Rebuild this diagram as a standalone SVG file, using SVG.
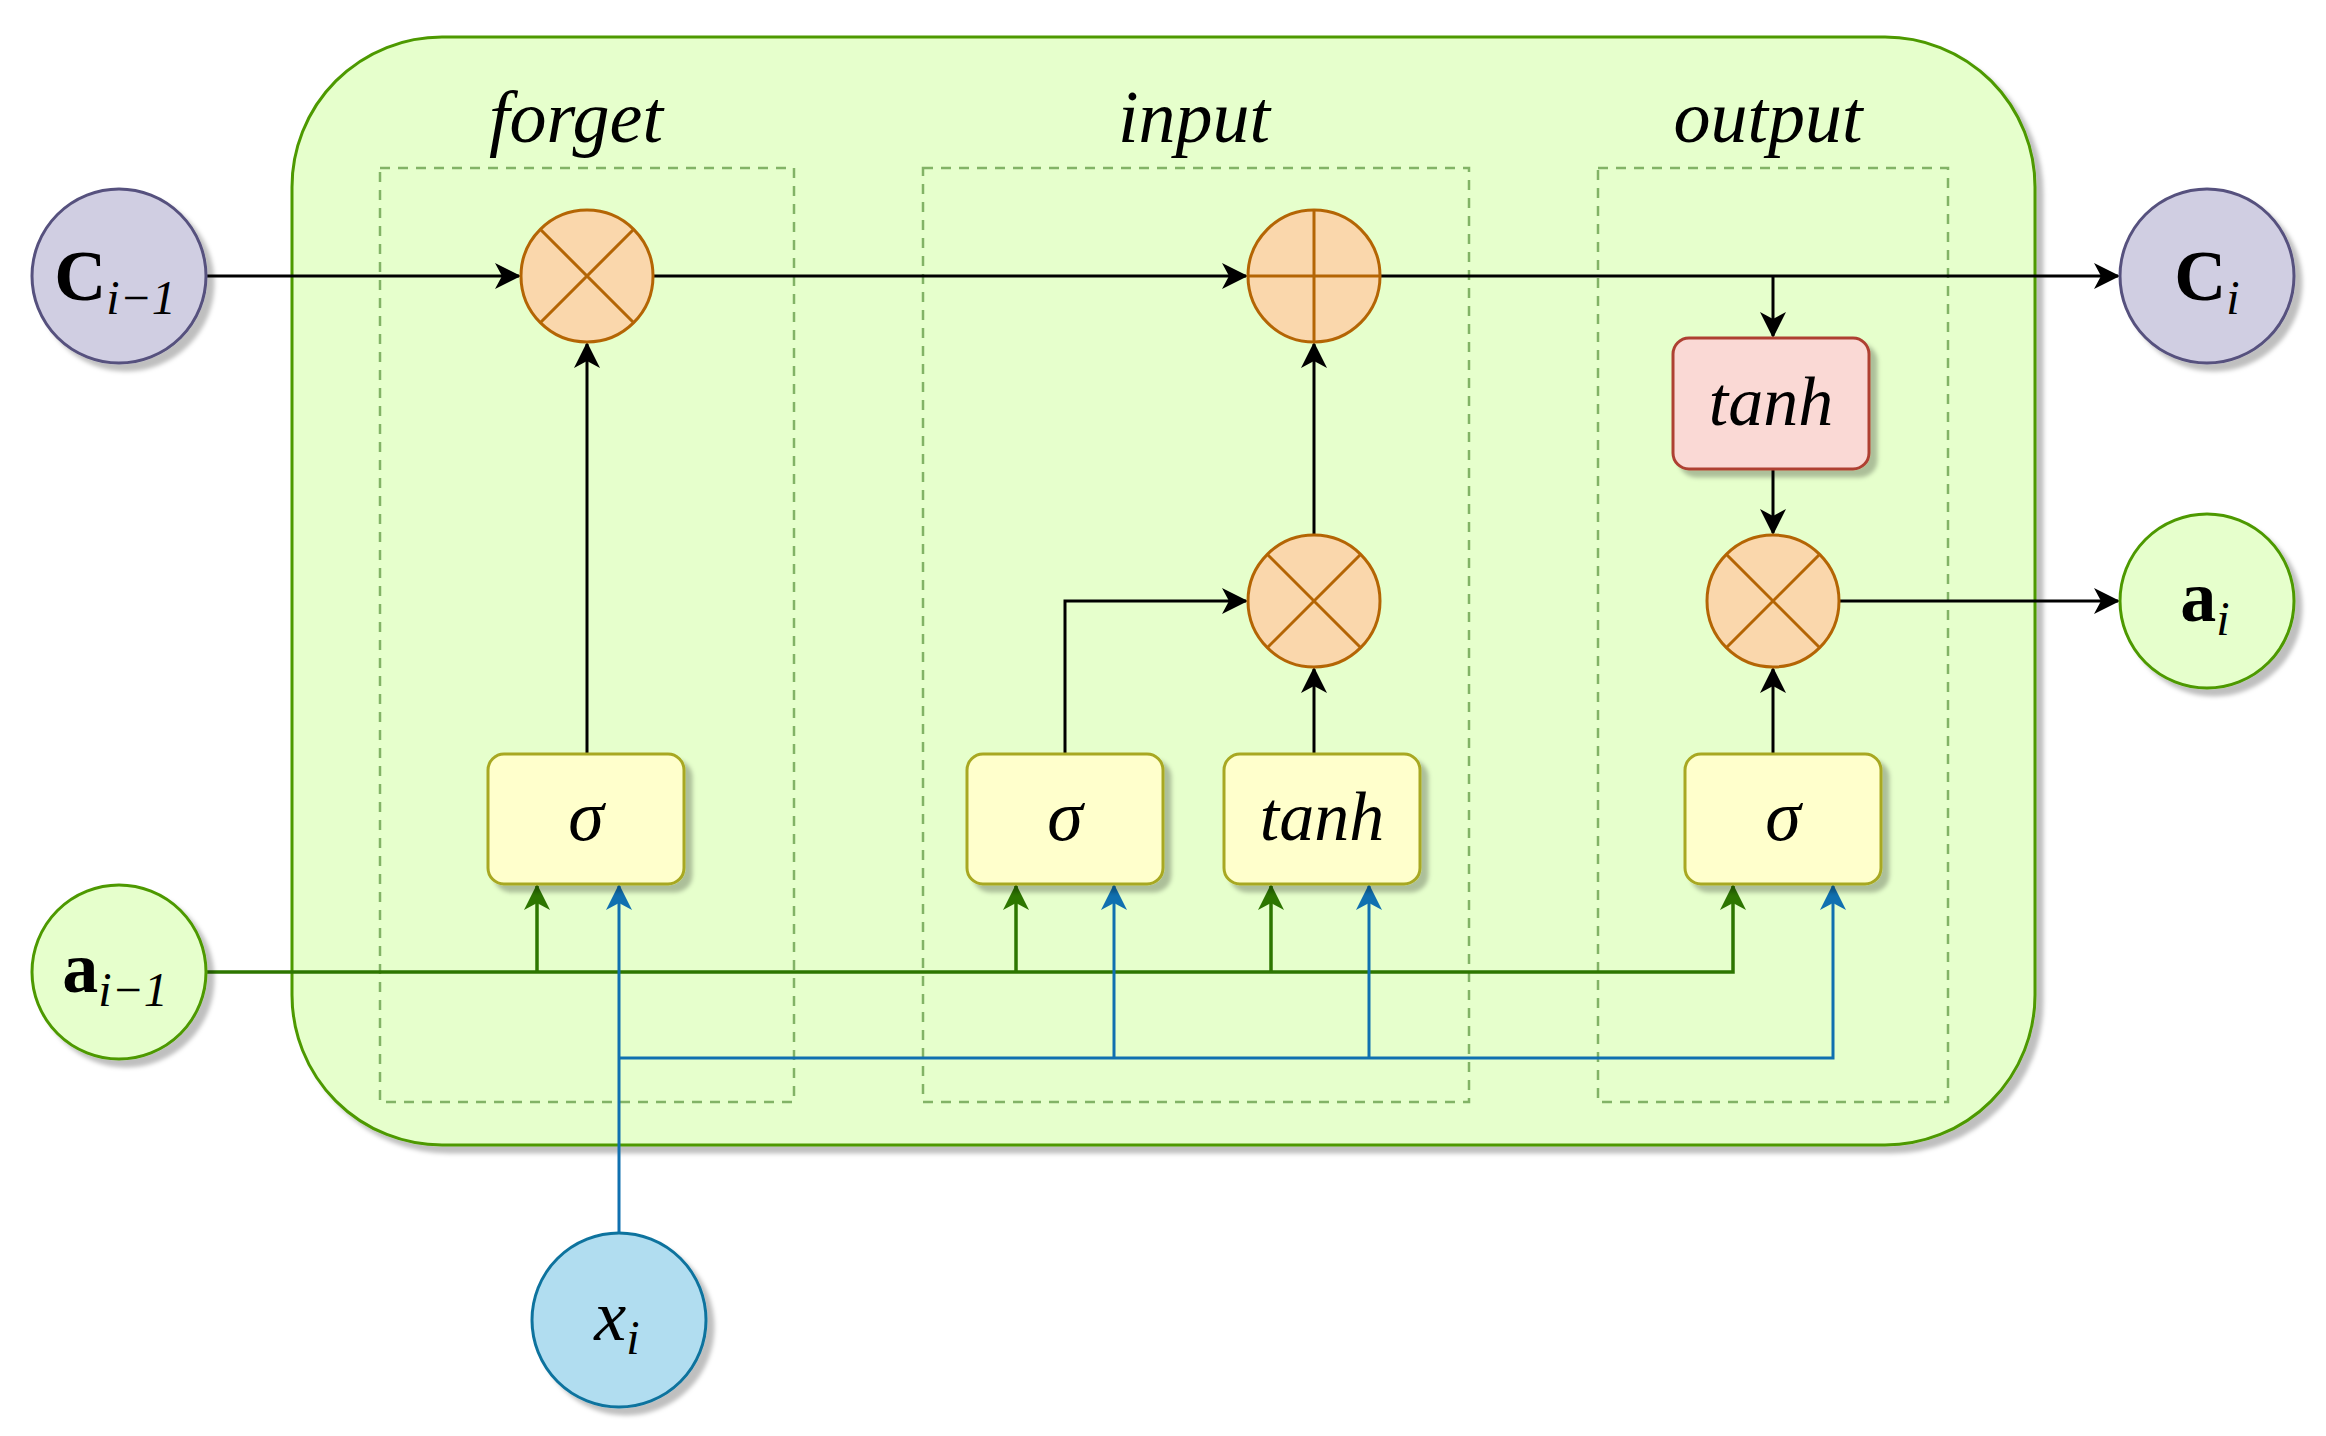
<svg xmlns="http://www.w3.org/2000/svg" width="2326" height="1436" viewBox="0 0 2326 1436">
<style>
.t{font-family:"Liberation Serif","DejaVu Serif",serif;font-style:italic;fill:#000}
.b{font-family:"Liberation Serif","DejaVu Serif",serif;font-weight:bold;fill:#000}
.op{fill:#fad7ac;stroke:#b46504;stroke-width:3}
.opl{stroke:#b46504;stroke-width:3}
.y{fill:#ffffcc;stroke:#a8a820;stroke-width:3}
.dash{fill:none;stroke:#82b366;stroke-width:2.5;stroke-dasharray:10 8}
.k{fill:none;stroke:#000;stroke-width:3}
.g{fill:none;stroke:#2d7600;stroke-width:3.5}
.bl{fill:none;stroke:#1070b0;stroke-width:3}
</style>
<defs>
<filter id="sh" x="-20%" y="-20%" width="150%" height="150%"><feDropShadow dx="7" dy="7" stdDeviation="2" flood-color="#000" flood-opacity="0.25"/></filter>
<marker id="ak" markerWidth="26" markerHeight="26" refX="24" refY="13" orient="auto" markerUnits="userSpaceOnUse" viewBox="0 0 26 26"><path d="M0,0 L26,13 L0,26 L7,13 Z" fill="#000"/></marker>
<marker id="ag" markerWidth="26" markerHeight="26" refX="24" refY="13" orient="auto" markerUnits="userSpaceOnUse" viewBox="0 0 26 26"><path d="M0,0 L26,13 L0,26 L7,13 Z" fill="#2d7600"/></marker>
<marker id="ab" markerWidth="26" markerHeight="26" refX="24" refY="13" orient="auto" markerUnits="userSpaceOnUse" viewBox="0 0 26 26"><path d="M0,0 L26,13 L0,26 L7,13 Z" fill="#1070b0"/></marker>
</defs>
<g id="cell"><rect x="292" y="37" width="1743" height="1108" rx="150" fill="#e6ffcc" stroke="#4d9900" stroke-width="3" filter="url(#sh)"/></g>
<g id="forget-box"><rect class="dash" x="380" y="168" width="414" height="934"/><text class="t" x="576" y="142" font-size="74" text-anchor="middle">forget</text></g>
<g id="input-box"><rect class="dash" x="923" y="168" width="546" height="934"/><text class="t" x="1194" y="142" font-size="74" text-anchor="middle">input</text></g>
<g id="output-box"><rect class="dash" x="1598" y="168" width="350" height="934"/><text class="t" x="1768" y="142" font-size="74" text-anchor="middle">output</text></g>
<g id="connectors">
<path class="k" d="M207,276 H519" marker-end="url(#ak)"/>
<path class="k" d="M653,276 H1246" marker-end="url(#ak)"/>
<path class="k" d="M1380,276 H2118" marker-end="url(#ak)"/>
<path class="k" d="M1773,276 V336" marker-end="url(#ak)"/>
<path class="k" d="M1773,469 V533" marker-end="url(#ak)"/>
<path class="k" d="M1839,601 H2118" marker-end="url(#ak)"/>
<path class="k" d="M587,754 V344" marker-end="url(#ak)"/>
<path class="k" d="M1065,754 V601 H1246" marker-end="url(#ak)"/>
<path class="k" d="M1314,754 V669" marker-end="url(#ak)"/>
<path class="k" d="M1314,535 V344" marker-end="url(#ak)"/>
<path class="k" d="M1773,754 V669" marker-end="url(#ak)"/>
<path class="g" d="M207,972 H1733 V886" marker-end="url(#ag)"/>
<path class="g" d="M537,972 V886" marker-end="url(#ag)"/>
<path class="g" d="M1016,972 V886" marker-end="url(#ag)"/>
<path class="g" d="M1271,972 V886" marker-end="url(#ag)"/>
<path class="bl" d="M619,1232 V886" marker-end="url(#ab)"/>
<path class="bl" d="M619,1058 H1833 V886" marker-end="url(#ab)"/>
<path class="bl" d="M1114,1058 V886" marker-end="url(#ab)"/>
<path class="bl" d="M1369,1058 V886" marker-end="url(#ab)"/>
</g>
<g id="mul-forget"><circle class="op" cx="587" cy="276" r="66"/><path class="opl" d="M540,229 L634,323 M634,229 L540,323"/></g>
<g id="add-input"><circle class="op" cx="1314" cy="276" r="66"/><path class="opl" d="M1248,276 H1380 M1314,210 V342"/></g>
<g id="mul-input"><circle class="op" cx="1314" cy="601" r="66"/><path class="opl" d="M1267,554 L1361,648 M1361,554 L1267,648"/></g>
<g id="mul-output"><circle class="op" cx="1773" cy="601" r="66"/><path class="opl" d="M1726,554 L1820,648 M1820,554 L1726,648"/></g>
<g id="tanh-out"><rect x="1673" y="338" width="196" height="131" rx="16" fill="#fad9d5" stroke="#ae4132" stroke-width="3" filter="url(#sh)"/><text class="t" x="1771" y="425" font-size="70" text-anchor="middle">tanh</text></g>
<g id="sig-forget"><rect class="y" x="488" y="754" width="196" height="130" rx="16" filter="url(#sh)"/><text class="t" x="586" y="840" font-size="72" text-anchor="middle">σ</text></g>
<g id="sig-input"><rect class="y" x="967" y="754" width="196" height="130" rx="16" filter="url(#sh)"/><text class="t" x="1065" y="840" font-size="72" text-anchor="middle">σ</text></g>
<g id="tanh-input"><rect class="y" x="1224" y="754" width="196" height="130" rx="16" filter="url(#sh)"/><text class="t" x="1322" y="840" font-size="70" text-anchor="middle">tanh</text></g>
<g id="sig-output"><rect class="y" x="1685" y="754" width="196" height="130" rx="16" filter="url(#sh)"/><text class="t" x="1783" y="840" font-size="72" text-anchor="middle">σ</text></g>
<g id="C-prev"><circle cx="119" cy="276" r="87" fill="#d0cee2" stroke="#56517e" stroke-width="3" filter="url(#sh)"/><text x="115" y="300" text-anchor="middle"><tspan class="b" font-size="72">C</tspan><tspan class="t" font-size="48" dy="14">i−1</tspan></text></g>
<g id="C-next"><circle cx="2207" cy="276" r="87" fill="#d0cee2" stroke="#56517e" stroke-width="3" filter="url(#sh)"/><text x="2207" y="300" text-anchor="middle"><tspan class="b" font-size="72">C</tspan><tspan class="t" font-size="48" dy="14">i</tspan></text></g>
<g id="a-prev"><circle cx="119" cy="972" r="87" fill="#e6ffcc" stroke="#4d9900" stroke-width="3" filter="url(#sh)"/><text x="115" y="992" text-anchor="middle"><tspan class="b" font-size="72">a</tspan><tspan class="t" font-size="48" dy="14">i−1</tspan></text></g>
<g id="a-next"><circle cx="2207" cy="601" r="87" fill="#e6ffcc" stroke="#4d9900" stroke-width="3" filter="url(#sh)"/><text x="2205" y="621" text-anchor="middle"><tspan class="b" font-size="72">a</tspan><tspan class="t" font-size="48" dy="14">i</tspan></text></g>
<g id="x-in"><circle cx="619" cy="1320" r="87" fill="#b1ddf0" stroke="#10739e" stroke-width="3" filter="url(#sh)"/><text x="617" y="1340" text-anchor="middle"><tspan class="t" font-size="72">x</tspan><tspan class="t" font-size="48" dy="14">i</tspan></text></g>
</svg>
